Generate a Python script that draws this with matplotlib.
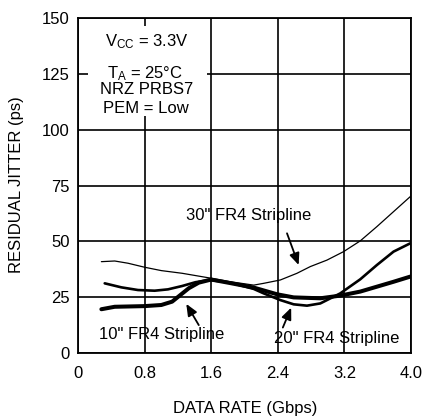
import matplotlib
matplotlib.use("Agg")
import matplotlib.pyplot as plt
from matplotlib.patches import Rectangle

plt.rcParams['font.family'] = ['Liberation Sans', 'DejaVu Sans']
plt.rcParams['mathtext.default'] = 'regular'

# 30" FR4 Stripline (thin)
x30 = [0.28, 0.44, 0.60, 0.80, 1.00, 1.25, 1.58, 1.83, 2.11, 2.23, 2.43, 2.63, 2.79, 2.99, 3.19, 3.39, 3.59, 3.79, 3.99]
y30 = [40.9, 41.2, 40.2, 38.4, 36.9, 35.7, 33.6, 31.9, 30.4, 31.2, 32.7, 35.7, 38.7, 41.6, 45.4, 50.2, 56.6, 63.3, 70.0]

# 20" FR4 Stripline (medium)
x20 = [0.32, 0.52, 0.72, 0.92, 1.08, 1.25, 1.41, 1.58, 1.83, 2.11, 2.23, 2.43, 2.59, 2.75, 2.91, 3.15, 3.39, 3.59, 3.79, 3.99]
y20 = [31.2, 29.4, 28.2, 27.9, 28.5, 30.0, 31.7, 32.7, 31.5, 28.7, 26.7, 23.7, 21.8, 21.2, 22.2, 26.7, 33.0, 39.4, 45.4, 49.1]

# 10" FR4 Stripline (thick)
x10 = [0.28, 0.44, 0.80, 1.00, 1.13, 1.23, 1.33, 1.45, 1.60, 1.83, 2.11, 2.39, 2.59, 2.91, 3.15, 3.39, 3.59, 3.79, 3.99]
y10 = [19.6, 20.7, 21.0, 21.5, 23.0, 26.0, 29.0, 31.5, 32.9, 31.3, 29.3, 26.3, 24.9, 24.5, 25.7, 27.5, 29.7, 31.9, 34.2]

xticks = [0, 0.8, 1.6, 2.4, 3.2, 4.0]
xticklabels = ['0', '0.8', '1.6', '2.4', '3.2', '4.0']
yticks = [0, 25, 50, 75, 100, 125, 150]

fig = plt.figure(figsize=(4.22, 4.19), dpi=100)
ax = fig.add_axes([0.185, 0.1575, 0.789, 0.7995])
ax.set_xlim(0, 4.0)
ax.set_ylim(0, 150)
ax.set_xticks(xticks)
ax.set_xticklabels(xticklabels)
ax.set_yticks(yticks)
ax.tick_params(axis='both', length=0, labelsize=12)
ax.tick_params(axis='x', pad=9)
ax.tick_params(axis='y', pad=6)
ax.grid(True, color='black', linewidth=1.2, zorder=1)
ax.set_axisbelow(True)
for s in ax.spines.values():
    s.set_linewidth(1.3)
    s.set_zorder(5)

ax.add_patch(Rectangle((0.12, 106), 1.43, 40.5, facecolor='white', edgecolor='none', zorder=2))

ax.plot(x30, y30, color='black', lw=0.9, zorder=3, solid_capstyle='round', solid_joinstyle='round')
ax.plot(x20, y20, color='black', lw=1.9, zorder=3, solid_capstyle='round', solid_joinstyle='round')
ax.plot(x10, y10, color='black', lw=2.9, zorder=3, solid_capstyle='round', solid_joinstyle='round')

ax.text(0.82, 137.5, 'V$_{CC}$ = 3.3V', ha='center', va='baseline', fontsize=12, zorder=4)
ax.text(0.80, 123.0, 'T$_{A}$ = 25°C', ha='center', va='baseline', fontsize=12, zorder=4)
ax.text(0.82, 116.2, 'NRZ PRBS7', ha='center', va='baseline', fontsize=12, zorder=4)
ax.text(0.82, 107.3, 'PEM = Low', ha='center', va='baseline', fontsize=12, zorder=4)

ap = dict(arrowstyle='-|>,head_length=0.7,head_width=0.3', color='black', lw=1.3, shrinkA=0, shrinkB=0)
ax.text(2.05, 61.4, '30" FR4 Stripline', ha='center', va='center', fontsize=12, zorder=4)
ax.annotate('', xy=(2.65, 39.4), xytext=(2.51, 53.6), arrowprops=ap, zorder=4)
ax.text(1.00, 8.4, '10" FR4 Stripline', ha='center', va='center', fontsize=12, zorder=4)
ax.annotate('', xy=(1.30, 22.0), xytext=(1.45, 12.5), arrowprops=ap, zorder=4)
ax.text(3.11, 6.7, '20" FR4 Stripline', ha='center', va='center', fontsize=12, zorder=4)
ax.annotate('', xy=(2.56, 20.3), xytext=(2.46, 11.4), arrowprops=ap, zorder=4)

fig.text(245 / 422, 1 - 408 / 419, 'DATA RATE (Gbps)', ha='center', va='center', fontsize=12)
fig.text(17 / 422, 1 - 185 / 419, 'RESIDUAL JITTER (ps)', ha='center', va='center', fontsize=12, rotation=90)

fig.savefig('out.png', dpi=100, facecolor='white')
